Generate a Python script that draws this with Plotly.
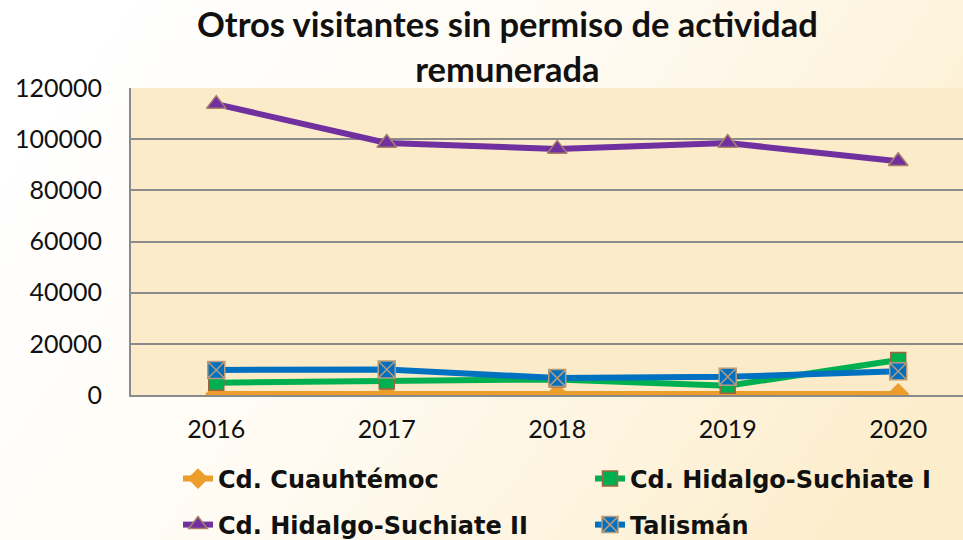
import base64
import plotly.graph_objects as go

years = ["2016", "2017", "2018", "2019", "2020"]
cuauhtemoc = [400, 400, 400, 400, 400]
hidalgo_1 = [4800, 5300, 6100, 3600, 13700]
hidalgo_2 = [113700, 98500, 96200, 98500, 91400]
talisman = [9800, 10000, 6600, 7100, 9300]
y_ticks = [0, 20000, 40000, 60000, 80000, 100000, 120000]

title_text = "Otros visitantes sin permiso de actividad<br>remunerada"

W, H = 963, 540
ML, MT, MB = 131, 88, 145

svg = f'''<svg xmlns="http://www.w3.org/2000/svg" width="{W}" height="{H}">
<defs><linearGradient id="g" x1="0" y1="0.3" x2="1" y2="0.7">
<stop offset="0" stop-color="#FFFFFF"/><stop offset="0.45" stop-color="#FFFBF3"/>
<stop offset="1" stop-color="#FCEDCB"/></linearGradient></defs>
<rect width="{W}" height="{H}" fill="url(#g)"/></svg>'''
bg_uri = "data:image/svg+xml;base64," + base64.b64encode(svg.encode()).decode()

pw = W - ML
ph = H - MT - MB

fig = go.Figure()
fig.add_trace(go.Scatter(
    x=years, y=cuauhtemoc, name="Cd. Cuauhtémoc", mode="lines+markers",
    line=dict(color="#EC9E2C", width=6),
    marker=dict(symbol="diamond", size=17, color="#EC9E2C", line=dict(color="#EC9E2C", width=0)),
    legend="legend"))
fig.add_trace(go.Scatter(
    x=years, y=hidalgo_1, name="Cd. Hidalgo-Suchiate I", mode="lines+markers",
    line=dict(color="#00B050", width=6),
    marker=dict(symbol="square", size=15, color="#00B050", line=dict(color="#A0653F", width=1.5)),
    legend="legend2"))
fig.add_trace(go.Scatter(
    x=years, y=hidalgo_2, name="Cd. Hidalgo-Suchiate II", mode="lines+markers",
    line=dict(color="#7030A0", width=6),
    marker=dict(symbol="triangle-up", size=17, color="#7030A0", line=dict(color="#A8806A", width=1.5)),
    legend="legend3"))
fig.add_trace(go.Scatter(
    x=years, y=talisman, name="Talismán", mode="lines+markers",
    line=dict(color="#0070C0", width=6),
    marker=dict(symbol="square-x", size=17, color="#0070C0", line=dict(color="#B89A78", width=1.5)),
    legend="legend4"))

def leg(xpx, ypx):
    return dict(
        orientation="h", xref="container", yref="container", xanchor="left", yanchor="middle",
        x=xpx / W, y=1 - ypx / H,
        bgcolor="rgba(0,0,0,0)", borderwidth=0,
        font=dict(family="DejaVu Sans", size=24, color="#111111", weight="bold"),
        itemwidth=30,
    )

fig.update_layout(
    width=W, height=H,
    margin=dict(l=ML, r=0, t=MT, b=MB, pad=0, autoexpand=False),
    paper_bgcolor="#FFFDF8",
    plot_bgcolor="rgba(0,0,0,0)",
    showlegend=True,
    legend=leg(178, 479),
    legend2=leg(590, 479),
    legend3=leg(178, 525),
    legend4=leg(590, 525),
    annotations=[dict(text=title_text, xref="paper", yref="paper",
                      x=(507 - ML) / pw, xanchor="center",
                      y=1 + (MT - 1) / ph, yanchor="top", showarrow=False,
                      font=dict(family="Lato", size=34.5, color="#111111", weight="bold"))],
    images=[dict(source=bg_uri, xref="paper", yref="paper",
                 x=-ML / pw, y=1 + MT / ph, sizex=W / pw, sizey=H / ph,
                 xanchor="left", yanchor="top", sizing="stretch", layer="below")],
    shapes=[dict(type="rect", xref="x domain", yref="y domain", x0=0, x1=1, y0=0, y1=1,
                 fillcolor="#FBEBC8", line=dict(width=0), layer="below")],
    xaxis=dict(type="category", range=[-0.5, 4.38], showgrid=False, zeroline=False,
               showline=True, linecolor="#8A8A8A", linewidth=2, ticks="",
               ticklabelstandoff=11,
               tickfont=dict(family="Lato", size=25, color="#111111")),
    yaxis=dict(range=[0, 120000], tickvals=y_ticks, ticktext=[str(v) for v in y_ticks],
               showgrid=True, gridcolor="#8A8A8A", gridwidth=2, zeroline=False,
               showline=True, linecolor="#8A8A8A", linewidth=2, ticks="",
               ticklabelstandoff=22,
               tickfont=dict(family="Lato", size=25, color="#111111")),
)

fig.write_html("out.html", config={"displayModeBar": False},
               post_script="document.body.style.margin='0';document.body.style.overflow='hidden';")
